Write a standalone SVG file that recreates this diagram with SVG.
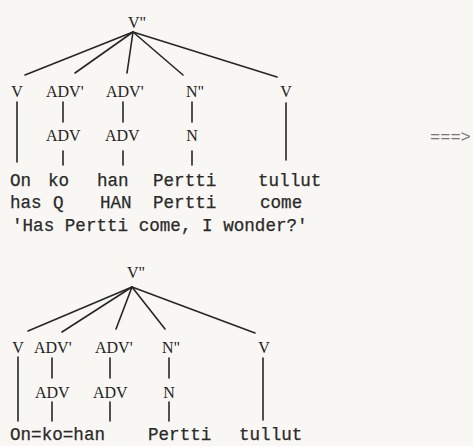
<svg xmlns="http://www.w3.org/2000/svg" width="473" height="446" viewBox="0 0 473 446">
<style>
.lab{font-family:"Liberation Serif","Times New Roman",serif;font-size:16px;fill:#222}
.mono{font-family:"Liberation Mono","Courier New",monospace;font-size:17.6px;fill:#2a2a2a;stroke:#2a2a2a;stroke-width:0.25}
.arr{font-family:"Liberation Mono","Courier New",monospace;font-size:17px;fill:#777}
.c line{stroke:#262626;stroke-width:1.6;stroke-linecap:round}
</style>
<rect width="473" height="446" fill="#f8f7f3"/>

<g id="connectors" class="c">
  <!-- top tree -->
  <line x1="133" y1="32" x2="25" y2="75"/>
  <line x1="133" y1="32" x2="75" y2="73"/>
  <line x1="133" y1="32" x2="127" y2="73"/>
  <line x1="133" y1="32" x2="183" y2="75"/>
  <line x1="133" y1="32" x2="277" y2="77"/>
  <line x1="17" y1="102" x2="17" y2="162"/>
  <line x1="63" y1="102" x2="63" y2="122"/>
  <line x1="123" y1="102" x2="123" y2="122"/>
  <line x1="192" y1="102" x2="192" y2="122"/>
  <line x1="286" y1="103" x2="286" y2="160"/>
  <line x1="63" y1="151" x2="63" y2="165"/>
  <line x1="123" y1="151" x2="123" y2="165"/>
  <line x1="192" y1="151" x2="192" y2="165"/>
  <!-- bottom tree -->
  <line x1="132" y1="287" x2="28" y2="331"/>
  <line x1="132" y1="287" x2="62" y2="332"/>
  <line x1="132" y1="287" x2="116" y2="329"/>
  <line x1="132" y1="287" x2="165" y2="329"/>
  <line x1="132" y1="287" x2="255" y2="333"/>
  <line x1="18" y1="357" x2="18" y2="421"/>
  <line x1="52" y1="358" x2="52" y2="378"/>
  <line x1="110" y1="358" x2="110" y2="378"/>
  <line x1="169" y1="358" x2="169" y2="378"/>
  <line x1="263" y1="358" x2="263" y2="420"/>
  <line x1="52" y1="402" x2="52" y2="421"/>
  <line x1="110" y1="402" x2="110" y2="421"/>
  <line x1="169" y1="402" x2="169" y2="421"/>
</g>

<!-- top tree nodes -->
<g id="t1-root"><text class="lab" x="128" y="28">V"</text></g>
<g id="t1-v"><text class="lab" x="17" y="97" text-anchor="middle">V</text></g>
<g id="t1-advbar1"><text class="lab" x="46" y="97">ADV'</text></g>
<g id="t1-advbar2"><text class="lab" x="106" y="97">ADV'</text></g>
<g id="t1-nbar"><text class="lab" x="186" y="97">N"</text></g>
<g id="t1-v2"><text class="lab" x="286" y="97" text-anchor="middle">V</text></g>
<g id="t1-adv1"><text class="lab" x="46" y="141">ADV</text></g>
<g id="t1-adv2"><text class="lab" x="105" y="141">ADV</text></g>
<g id="t1-n"><text class="lab" x="192" y="141" text-anchor="middle">N</text></g>
<g id="t1-words">
  <text class="mono" x="10" y="186">On</text>
  <text class="mono" x="48" y="186">ko</text>
  <text class="mono" x="97" y="186">han</text>
  <text class="mono" x="153" y="186">Pertti</text>
  <text class="mono" x="258" y="186">tullut</text>
</g>
<g id="t1-gloss">
  <text class="mono" x="10" y="208">has</text>
  <text class="mono" x="53" y="208">Q</text>
  <text class="mono" x="100" y="208">HAN</text>
  <text class="mono" x="153" y="208">Pertti</text>
  <text class="mono" x="260" y="208">come</text>
</g>
<g id="t1-translation"><text class="mono" x="12" y="231">'Has Pertti come, I wonder?'</text></g>
<g id="arrow"><text class="arr" x="430" y="142">===&gt;</text></g>

<!-- bottom tree nodes -->
<g id="t2-root"><text class="lab" x="127" y="278">V"</text></g>
<g id="t2-v"><text class="lab" x="18" y="353" text-anchor="middle">V</text></g>
<g id="t2-advbar1"><text class="lab" x="34" y="353">ADV'</text></g>
<g id="t2-advbar2"><text class="lab" x="95" y="353">ADV'</text></g>
<g id="t2-nbar"><text class="lab" x="162" y="353">N"</text></g>
<g id="t2-v2"><text class="lab" x="264" y="353" text-anchor="middle">V</text></g>
<g id="t2-adv1"><text class="lab" x="35" y="398">ADV</text></g>
<g id="t2-adv2"><text class="lab" x="93" y="398">ADV</text></g>
<g id="t2-n"><text class="lab" x="169" y="398" text-anchor="middle">N</text></g>
<g id="t2-words">
  <text class="mono" x="10" y="440">On=ko=han</text>
  <text class="mono" x="148" y="440">Pertti</text>
  <text class="mono" x="239" y="440">tullut</text>
</g>
</svg>
